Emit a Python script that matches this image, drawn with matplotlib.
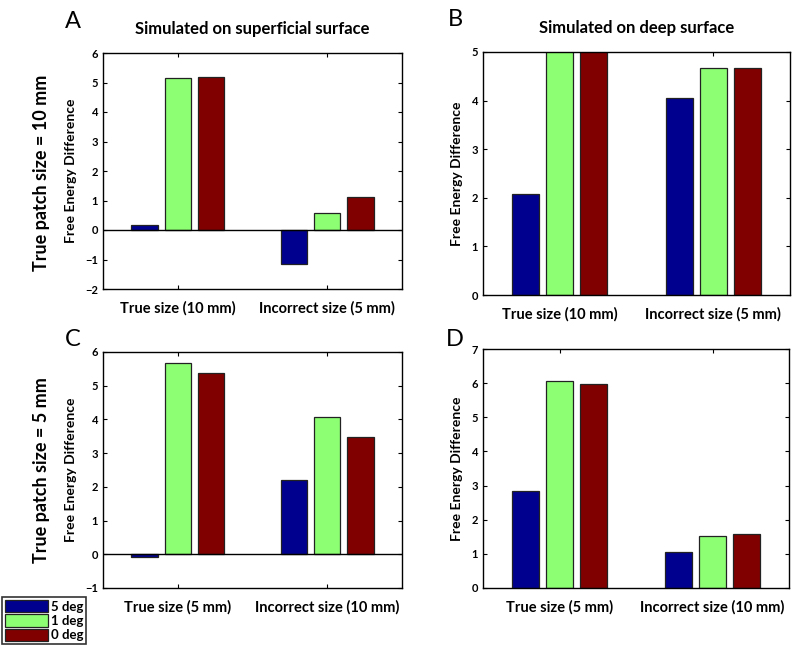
import numpy as np
import matplotlib
matplotlib.use("Agg")
import matplotlib.pyplot as plt

plt.rcParams['font.family'] = ['Lato', 'DejaVu Sans']

groups_top = ['True size (10 mm)', 'Incorrect size (5 mm)']
groups_bot = ['True size (5 mm)', 'Incorrect size (10 mm)']
series = ['5 deg', '1 deg', '0 deg']
colors = [(0, 0, 0.56), (0.55, 1.0, 0.45), (0.5, 0, 0)]

# values per group: [5 deg, 1 deg, 0 deg]
a_vals = [[0.18, 5.16, 5.19], [-1.15, 0.59, 1.12]]
b_vals = [[2.08, 5.3, 5.3], [4.06, 4.67, 4.67]]
c_vals = [[-0.07, 5.68, 5.39], [2.21, 4.06, 3.49]]
d_vals = [[2.84, 6.06, 5.97], [1.05, 1.51, 1.58]]

W, H = 798, 651
fig = plt.figure(figsize=(W / 100, H / 100), dpi=100)


def px_axes(l, t, r, b):
    return fig.add_axes([l / W, 1 - b / H, (r - l) / W, (b - t) / H])


def draw_panel(ax, vals, labels, ylim, yticks):
    vals = np.array(vals)
    x = np.arange(1, 3)
    offs = [-0.222, 0.0, 0.222]
    for k in range(3):
        ax.bar(x + offs[k], vals[:, k], width=0.175, color=colors[k],
               edgecolor='#222222', linewidth=0.9, label=series[k], zorder=2)
    ax.set_xlim(0.5, 2.5)
    ax.set_ylim(*ylim)
    ax.set_yticks(yticks)
    ax.set_xticks(x)
    ax.set_xticklabels(labels, fontsize=10.5, fontweight='bold')
    ax.tick_params(axis='y', labelsize=8, width=0.8, length=3)
    ax.tick_params(axis='x', pad=9, length=3, width=0.8)
    ax.tick_params(direction='in', top=True, right=True)
    for t in ax.get_yticklabels():
        t.set_fontweight('bold')
    if ylim[0] < 0:
        ax.axhline(0, color='black', linewidth=1.0, zorder=3)
    for s in ax.spines.values():
        s.set_linewidth(1.0)
    ax.set_ylabel('Free Energy Difference', fontsize=10, fontweight='bold', labelpad=6)


axA = px_axes(103, 53, 402, 289)
draw_panel(axA, a_vals, groups_top, (-2, 6), range(-2, 7))
axB = px_axes(483, 52, 790, 295)
draw_panel(axB, b_vals, groups_top, (0, 5), range(0, 6))
axC = px_axes(103, 352, 402, 588)
draw_panel(axC, c_vals, groups_bot, (-1, 6), range(-1, 7))
axD = px_axes(483, 349, 789, 588)
draw_panel(axD, d_vals, groups_bot, (0, 7), range(0, 8))

axA.set_title('Simulated on superficial surface', fontsize=12, fontweight='bold', pad=14)
axB.set_title('Simulated on deep surface', fontsize=12, fontweight='bold', pad=14)

for lab, (x, y) in zip('ABCD', [(73, 22), (455, 19), (73, 339), (455, 339)]):
    fig.text(x / W, 1 - y / H, lab, fontsize=17, ha='center', va='center')

fig.text(42 / W, 1 - 173 / H, 'True patch size = 10 mm', rotation=90, fontsize=13,
         fontweight='bold', ha='center', va='center')
fig.text(42 / W, 1 - 470 / H, 'True patch size = 5 mm', rotation=90, fontsize=13,
         fontweight='bold', ha='center', va='center')

handles, labels = axC.get_legend_handles_labels()
leg = fig.legend(handles, labels, loc='lower left', bbox_to_anchor=(2 / W, 1 - 644 / H),
                 frameon=True, fancybox=False, edgecolor='black',
                 prop={'weight': 'bold', 'size': 9.5}, handlelength=3.3, handleheight=1.1,
                 handletextpad=0.2, labelspacing=0.12, borderpad=0.2, borderaxespad=0)
leg.get_frame().set_linewidth(1.2)

fig.savefig('out.png', dpi=100)
